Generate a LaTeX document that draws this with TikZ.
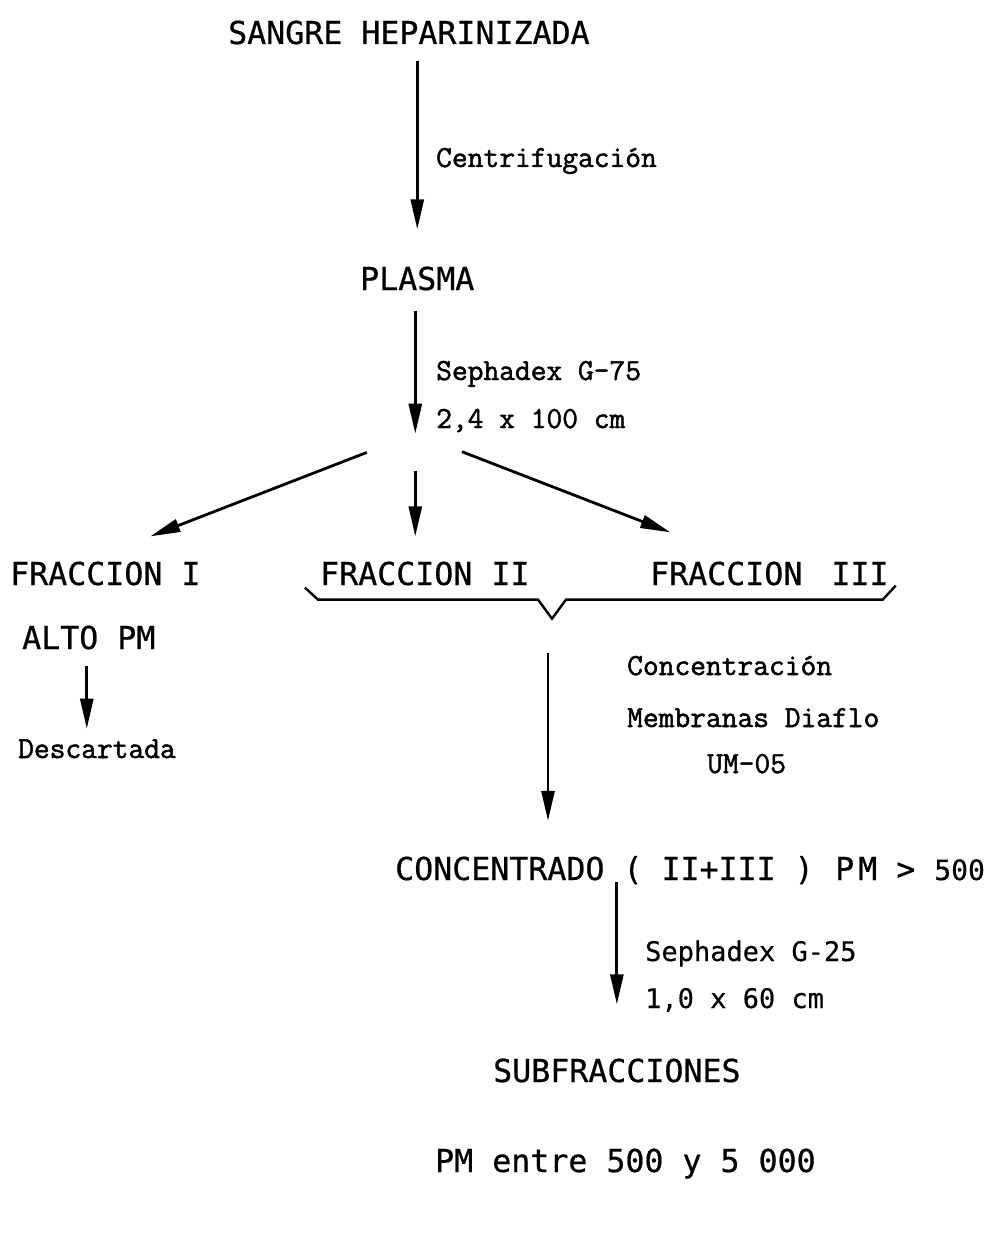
\documentclass[tikz,border=0pt]{standalone}
\usepackage{fontspec}
\newfontfamily\capsfont{DejaVu Sans Mono}[FakeBold=0.6]
\newfontfamily\typefont{Latin Modern Mono}[FakeBold=1.6]
\newfontfamily\gothicfont{DejaVu Sans Mono}[FakeBold=0.4]
\usetikzlibrary{arrows.meta,calc}

\begin{document}
\begin{tikzpicture}[x=1pt,y=-1pt,
    caps/.style={inner sep=0pt,anchor=base west,font=\capsfont\fontsize{31.6}{36}\selectfont},
    note/.style={inner sep=0pt,anchor=base west,font=\typefont\fontsize{30.6}{36}\selectfont},
    gothic/.style={inner sep=0pt,anchor=base west,font=\gothicfont\fontsize{27}{32}\selectfont},
    arrow/.style={line width=2.8pt,-{Triangle[length=30pt,width=13pt]}},
    brace/.style={line width=2.4pt,line join=miter}
]
    \useasboundingbox (0,0) rectangle (999,1260);

    \node[caps] (sangre) at (228,44) {SANGRE HEPARINIZADA};
    \node[note] (centri) at (436,167) {Centrifugación};
    \node[caps] (plasma) at (360,290) {PLASMA};
    \node[note] (sephA) at (436,380) {Sephadex G-75};
    \node[note] (colA) at (436,428) {2,4 x 100 cm};

    \node[caps] (fracI) at (10,585) {FRACCION I};
    \node[caps] (fracII) at (320,585) {FRACCION II};
    \node[caps] (fracIII) at (650,585) {FRACCION\hspace{10pt} III};
    \node[caps] (alto) at (22,649) {ALTO PM};
    \node[note] (desc) at (18,758) {Descartada};

    \node[note] (concA) at (627,675) {Concentración};
    \node[note] (membr) at (627,727) {Membranas Diaflo};
    \node[note] (um) at (707,773) {UM-05};

    \node[caps] (conc) at (395,880) {CONCENTRADO ( II+III )};
    \node[caps] (pm) at (835,880) {P\hspace{4pt}M > {\fontsize{28}{32}\selectfont 500}};
    \node[gothic] (sephB) at (645,961) {Sephadex G-25};
    \node[gothic] (colB) at (645,1008) {1,0 x 60 cm};
    \node[caps] (subf) at (493,1082) {SUBFRACCIONES};
    \node[caps] (rango) at (435,1172) {PM entre 500 y 5 000};

    \coordinate (split) at ($(plasma.south)+(-2,143)$);
    \coordinate (bracetip) at ($(fracII.south west)+(232,33)$);

    \draw[arrow,shorten <=16pt,shorten >=37pt] (sangre.south -| plasma.north) -- (plasma.north);
    \draw[arrow,shorten <=20pt] (plasma.south -| split) -- (split);
    \draw[arrow,shorten <=52pt] (split) -- ($(fracI.north)+(45,-25)$);
    \draw[arrow,shorten <=37pt,shorten >=25pt] (split) -- (split |- fracII.north);
    \draw[arrow,shorten <=50pt] (split) -- ($(fracIII.north)+(-99,-29)$);
    \draw[arrow,shorten <=16pt,shorten >=21pt] ($(alto.south)+(-2,0)$) -- ($(alto.south)+(-2,100)$);

    \draw[brace] ($(fracII.south west)+(-15,2)$) -- ++(13,12)
        -- ($(bracetip)+(-14,-19)$) -- (bracetip) -- ++(14,-19)
        -- ($(fracIII.south east)+(-6,14)$) -- ++(13,-14);

    \draw[arrow,shorten <=34pt,shorten >=35pt] ($(bracetip)+(-4,0)$) -- ($(bracetip |- conc.north)+(-4,0)$);
    \draw[arrow,shorten <=-2pt,shorten >=54pt] (subf.north |- conc.south) -- (subf.north);
\end{tikzpicture}
\end{document}
